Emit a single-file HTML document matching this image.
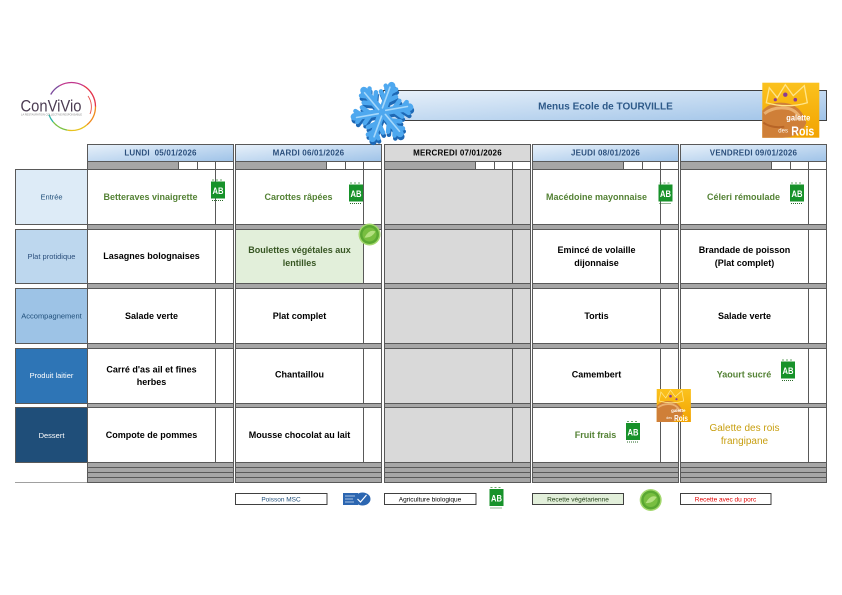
<!DOCTYPE html>
<html><head><meta charset="utf-8"><style>
html,body{margin:0;padding:0;background:#fff;}
svg{display:block;}
text{font-family:"Liberation Sans",Arial,sans-serif;}
.c{font-size:9px;font-weight:bold;text-anchor:middle;fill:#000;}
.g{fill:#548235;}
.v{fill:#375623;}
.lab{font-size:7.5px;text-anchor:middle;}
.hd{font-size:8px;font-weight:bold;text-anchor:middle;fill:#2b4f7c;letter-spacing:0.2px;}
.lg{font-size:6.5px;text-anchor:middle;}
</style></head><body>
<svg width="842" height="595" viewBox="0 0 842 595" xmlns="http://www.w3.org/2000/svg">
<defs>
<linearGradient id="hb" x1="0" y1="0" x2="1" y2="1"><stop offset="0" stop-color="#e8f1fa"/><stop offset="1" stop-color="#9fc3e8"/></linearGradient>
<linearGradient id="gal" x1="0" y1="0" x2="0" y2="1"><stop offset="0" stop-color="#fbc21e"/><stop offset="1" stop-color="#f2a300"/></linearGradient>
<g id="arm" fill="none" stroke-linecap="round" stroke-linejoin="round"><path d="M0 0V-28" stroke-width="7.5"/><path d="M0 -11L8 -19M0 -11L-8 -19M0 -20L5.5 -26M0 -20L-5.5 -26" stroke-width="4.5"/></g>
<g id="hl" fill="none" stroke-linecap="round"><path d="M-1 -4V-26" stroke-width="1.6"/></g>
</defs>

<!-- Convivio logo -->
<g fill="none" stroke-width="1.3">
<path d="M50.7 94.5 A24 24 0 0 1 59.5 85.7" stroke="#7b4a9c"/>
<path d="M59.5 85.7 A24 24 0 0 1 83.5 85.7" stroke="#c0358c"/>
<path d="M83.5 85.7 A24 24 0 0 1 95.5 106.5" stroke="#e4334b"/>
<path d="M95.5 106.5 A24 24 0 0 1 86.9 124.9" stroke="#f08a1d"/>
<path d="M86.9 124.9 A24 24 0 0 1 67.3 130.1" stroke="#e8c21d"/>
<path d="M67.3 130.1 A24 24 0 0 1 53.1 121.9" stroke="#7cc243"/>
<path d="M53.1 121.9 A24 24 0 0 1 48.9 114.7" stroke="#2bb3a6"/>
<path d="M88 96 A19 19 0 0 1 90 114" stroke="#e6504a" stroke-width="0.9"/>
</g>
<text x="20.5" y="111.5" font-size="17" fill="#4b3c52" textLength="61" lengthAdjust="spacingAndGlyphs">ConViVio</text>
<text x="21" y="115.6" font-size="2.6" fill="#888" textLength="61" lengthAdjust="spacingAndGlyphs">LA RESTAURATION COLLECTIVE RESPONSABLE</text>

<!-- Title bar -->
<rect x="383.5" y="90.5" width="443" height="30" fill="url(#hb)" stroke="#404040"/>
<text x="605.5" y="109.5" font-size="10" font-weight="bold" fill="#2e5a89" text-anchor="middle">Menus Ecole de TOURVILLE</text>

<!-- Galette big -->
<g transform="translate(762.3,82.7)">
<rect width="57" height="55" fill="url(#gal)"/>
<path d="M0 28 Q10 17 27 21 Q40 25 44 40 Q38 55 20 55 L0 55 Z" fill="#cf7f38"/>
<path d="M2 31 Q12 23 27 26 Q36 29 39 38" fill="none" stroke="#eab070" stroke-width="3"/>
<path d="M1 40 Q10 46 22 44" fill="none" stroke="#b76426" stroke-width="2"/>
<path d="M4 20 L7 5 L15 15 L23 2 L31 13 L42 3 L45 20 Q25 26 4 20Z" fill="none" stroke="#ffe58a" stroke-width="1.3"/>
<circle cx="23" cy="12" r="2.2" fill="#8a3c96"/><circle cx="33" cy="17" r="1.8" fill="#8a3c96"/><circle cx="13" cy="17" r="1.6" fill="#8a3c96"/>
<text x="24" y="38" font-size="8" font-weight="bold" fill="#fff" textLength="24" lengthAdjust="spacingAndGlyphs">galette</text>
<text x="16" y="50" font-size="6" fill="#fff">des</text>
<text x="29" y="53" font-size="13" font-weight="bold" fill="#fff" textLength="23" lengthAdjust="spacingAndGlyphs">Rois</text>
</g>

<!-- Label column -->
<rect x="15.5" y="169.5" width="72" height="55" fill="#ddebf7" stroke="#595959"/>
<rect x="15.5" y="229.5" width="72" height="54" fill="#bdd7ee" stroke="#595959"/>
<rect x="15.5" y="288.5" width="72" height="55" fill="#9dc3e6" stroke="#595959"/>
<rect x="15.5" y="348.5" width="72" height="55" fill="#2e75b6" stroke="#595959"/>
<rect x="15.5" y="407.5" width="72" height="55" fill="#1f4e79" stroke="#595959"/>
<line x1="15" y1="482.5" x2="87.5" y2="482.5" stroke="#a0a0a0"/>
<text class="lab" x="51.5" y="199.3" fill="#1f4e79">Entrée</text>
<text class="lab" x="51.5" y="259" fill="#2b4f7c">Plat protidique</text>
<text class="lab" x="51.5" y="318.5" fill="#1f4e79">Accompagnement</text>
<text class="lab" x="51.5" y="378" fill="#fff">Produit laitier</text>
<text class="lab" x="51.5" y="437.8" fill="#fff">Dessert</text>

<!-- LUNDI -->
<g transform="translate(87.5,0)">
<rect x="0" y="144.5" width="146" height="17" fill="url(#hb)" stroke="#595959"/>
<text class="hd" x="73" y="155.6">LUNDI&#160; 05/01/2026</text>
<rect x="0" y="161.5" width="91" height="8" fill="#a6a6a6" stroke="#595959"/>
<rect x="91" y="161.5" width="55" height="8" fill="#fff" stroke="#595959"/>
<path d="M110 161.5V169.5M128 161.5V169.5" stroke="#595959"/>
<rect x="0" y="169.5" width="146" height="313" fill="#a6a6a6" stroke="#595959"/>
<rect x="0" y="169.5" width="146" height="55" fill="#fff" stroke="#595959"/>
<rect x="0" y="229.5" width="146" height="54" fill="#fff" stroke="#595959"/>
<rect x="0" y="288.5" width="146" height="55" fill="#fff" stroke="#595959"/>
<rect x="0" y="348.5" width="146" height="55" fill="#fff" stroke="#595959"/>
<rect x="0" y="407.5" width="146" height="55" fill="#fff" stroke="#595959"/>
<path d="M128 169.5V224.5M128 229.5V283.5M128 288.5V343.5M128 348.5V403.5M128 407.5V462.5M0 467.5H146M0 472.5H146M0 477.5H146" stroke="#595959"/>
<text class="c g" x="63" y="200">Betteraves vinaigrette</text>
<text class="c" x="64" y="259.2">Lasagnes bolognaises</text>
<text class="c" x="64" y="319">Salade verte</text>
<text class="c" x="64" y="372.5">Carré d'as ail et fines</text>
<text class="c" x="64" y="385">herbes</text>
<text class="c" x="64" y="438.2">Compote de pommes</text>
</g>

<!-- MARDI -->
<g transform="translate(235.5,0)">
<rect x="0" y="144.5" width="146" height="17" fill="url(#hb)" stroke="#595959"/>
<text class="hd" x="73" y="155.6">MARDI 06/01/2026</text>
<rect x="0" y="161.5" width="91" height="8" fill="#a6a6a6" stroke="#595959"/>
<rect x="91" y="161.5" width="55" height="8" fill="#fff" stroke="#595959"/>
<path d="M110 161.5V169.5M128 161.5V169.5" stroke="#595959"/>
<rect x="0" y="169.5" width="146" height="313" fill="#a6a6a6" stroke="#595959"/>
<rect x="0" y="169.5" width="146" height="55" fill="#fff" stroke="#595959"/>
<rect x="0" y="229.5" width="146" height="54" fill="#fff" stroke="#595959"/>
<rect x="0" y="229.5" width="128" height="54" fill="#e2efda" stroke="#595959"/>
<rect x="0" y="288.5" width="146" height="55" fill="#fff" stroke="#595959"/>
<rect x="0" y="348.5" width="146" height="55" fill="#fff" stroke="#595959"/>
<rect x="0" y="407.5" width="146" height="55" fill="#fff" stroke="#595959"/>
<path d="M128 169.5V224.5M128 229.5V283.5M128 288.5V343.5M128 348.5V403.5M128 407.5V462.5M0 467.5H146M0 472.5H146M0 477.5H146" stroke="#595959"/>
<text class="c g" x="63" y="200">Carottes râpées</text>
<text class="c v" x="64" y="253.2">Boulettes végétales aux</text>
<text class="c v" x="64" y="266">lentilles</text>
<text class="c" x="64" y="319">Plat complet</text>
<text class="c" x="64" y="377.7">Chantaillou</text>
<text class="c" x="64" y="438">Mousse chocolat au lait</text>
</g>

<!-- MERCREDI -->
<g transform="translate(384.5,0)">
<rect x="0" y="144.5" width="146" height="17" fill="#d9d9d9" stroke="#595959"/>
<text class="hd" x="73" y="155.6" style="fill:#000">MERCREDI 07/01/2026</text>
<rect x="0" y="161.5" width="91" height="8" fill="#a6a6a6" stroke="#595959"/>
<rect x="91" y="161.5" width="55" height="8" fill="#fff" stroke="#595959"/>
<path d="M110 161.5V169.5M128 161.5V169.5" stroke="#595959"/>
<rect x="0" y="169.5" width="146" height="313" fill="#a6a6a6" stroke="#595959"/>
<rect x="0" y="169.5" width="146" height="55" fill="#d9d9d9" stroke="#595959"/>
<rect x="0" y="229.5" width="146" height="54" fill="#d9d9d9" stroke="#595959"/>
<rect x="0" y="288.5" width="146" height="55" fill="#d9d9d9" stroke="#595959"/>
<rect x="0" y="348.5" width="146" height="55" fill="#d9d9d9" stroke="#595959"/>
<rect x="0" y="407.5" width="146" height="55" fill="#d9d9d9" stroke="#595959"/>
<path d="M128 169.5V224.5M128 229.5V283.5M128 288.5V343.5M128 348.5V403.5M128 407.5V462.5M0 467.5H146M0 472.5H146M0 477.5H146" stroke="#595959"/>
</g>

<!-- JEUDI -->
<g transform="translate(532.5,0)">
<rect x="0" y="144.5" width="146" height="17" fill="url(#hb)" stroke="#595959"/>
<text class="hd" x="73" y="155.6">JEUDI 08/01/2026</text>
<rect x="0" y="161.5" width="91" height="8" fill="#a6a6a6" stroke="#595959"/>
<rect x="91" y="161.5" width="55" height="8" fill="#fff" stroke="#595959"/>
<path d="M110 161.5V169.5M128 161.5V169.5" stroke="#595959"/>
<rect x="0" y="169.5" width="146" height="313" fill="#a6a6a6" stroke="#595959"/>
<rect x="0" y="169.5" width="146" height="55" fill="#fff" stroke="#595959"/>
<rect x="0" y="229.5" width="146" height="54" fill="#fff" stroke="#595959"/>
<rect x="0" y="288.5" width="146" height="55" fill="#fff" stroke="#595959"/>
<rect x="0" y="348.5" width="146" height="55" fill="#fff" stroke="#595959"/>
<rect x="0" y="407.5" width="146" height="55" fill="#fff" stroke="#595959"/>
<path d="M128 169.5V224.5M128 229.5V283.5M128 288.5V343.5M128 348.5V403.5M128 407.5V462.5M0 467.5H146M0 472.5H146M0 477.5H146" stroke="#595959"/>
<text class="c g" x="64" y="200">Macédoine mayonnaise</text>
<text class="c" x="64" y="253.2">Emincé de volaille</text>
<text class="c" x="64" y="266">dijonnaise</text>
<text class="c" x="64" y="319">Tortis</text>
<text class="c" x="64" y="377.7">Camembert</text>
<text class="c g" x="63" y="438">Fruit frais</text>
</g>

<!-- VENDREDI -->
<g transform="translate(680.5,0)">
<rect x="0" y="144.5" width="146" height="17" fill="url(#hb)" stroke="#595959"/>
<text class="hd" x="73" y="155.6">VENDREDI 09/01/2026</text>
<rect x="0" y="161.5" width="91" height="8" fill="#a6a6a6" stroke="#595959"/>
<rect x="91" y="161.5" width="55" height="8" fill="#fff" stroke="#595959"/>
<path d="M110 161.5V169.5M128 161.5V169.5" stroke="#595959"/>
<rect x="0" y="169.5" width="146" height="313" fill="#a6a6a6" stroke="#595959"/>
<rect x="0" y="169.5" width="146" height="55" fill="#fff" stroke="#595959"/>
<rect x="0" y="229.5" width="146" height="54" fill="#fff" stroke="#595959"/>
<rect x="0" y="288.5" width="146" height="55" fill="#fff" stroke="#595959"/>
<rect x="0" y="348.5" width="146" height="55" fill="#fff" stroke="#595959"/>
<rect x="0" y="407.5" width="146" height="55" fill="#fff" stroke="#595959"/>
<path d="M128 169.5V224.5M128 229.5V283.5M128 288.5V343.5M128 348.5V403.5M128 407.5V462.5M0 467.5H146M0 472.5H146M0 477.5H146" stroke="#595959"/>
<text class="c g" x="63" y="200">Céleri rémoulade</text>
<text class="c" x="64" y="253.2">Brandade de poisson</text>
<text class="c" x="64" y="266">(Plat complet)</text>
<text class="c" x="64" y="319">Salade verte</text>
<text class="c g" x="63.5" y="377.7">Yaourt sucré</text>
<text x="64" y="431" font-size="10" fill="#c89f10" text-anchor="middle">Galette des rois</text>
<text x="64" y="444" font-size="10" fill="#c89f10" text-anchor="middle">frangipane</text>
</g>

<!-- AB logos -->
<g transform="translate(211,179.5)"><path d="M1 0.5h2M5 0.5h2M9 0.5h2" stroke="#3a8a3a" stroke-width="0.8"/><rect x="0" y="2" width="14" height="17" fill="#17922a"/><text x="7" y="14.5" font-size="9.5" font-weight="bold" fill="#fff" text-anchor="middle" textLength="11" lengthAdjust="spacingAndGlyphs">AB</text><path d="M1 21h12" stroke="#2a6a2a" stroke-width="1" stroke-dasharray="1 1"/></g>
<g transform="translate(349,182.5)"><path d="M1 0.5h2M5 0.5h2M9 0.5h2" stroke="#3a8a3a" stroke-width="0.8"/><rect x="0" y="2" width="14" height="17" fill="#17922a"/><text x="7" y="14.5" font-size="9.5" font-weight="bold" fill="#fff" text-anchor="middle" textLength="11" lengthAdjust="spacingAndGlyphs">AB</text><path d="M1 21h12" stroke="#2a6a2a" stroke-width="1" stroke-dasharray="1 1"/></g>
<g transform="translate(658.5,182.5)"><path d="M1 0.5h2M5 0.5h2M9 0.5h2" stroke="#3a8a3a" stroke-width="0.8"/><rect x="0" y="2" width="14" height="17" fill="#17922a"/><text x="7" y="14.5" font-size="9.5" font-weight="bold" fill="#fff" text-anchor="middle" textLength="11" lengthAdjust="spacingAndGlyphs">AB</text><path d="M1 21h12" stroke="#2a6a2a" stroke-width="1" stroke-dasharray="1 1"/></g>
<g transform="translate(790,182.5)"><path d="M1 0.5h2M5 0.5h2M9 0.5h2" stroke="#3a8a3a" stroke-width="0.8"/><rect x="0" y="2" width="14" height="17" fill="#17922a"/><text x="7" y="14.5" font-size="9.5" font-weight="bold" fill="#fff" text-anchor="middle" textLength="11" lengthAdjust="spacingAndGlyphs">AB</text><path d="M1 21h12" stroke="#2a6a2a" stroke-width="1" stroke-dasharray="1 1"/></g>
<g transform="translate(781,359.5)"><path d="M1 0.5h2M5 0.5h2M9 0.5h2" stroke="#3a8a3a" stroke-width="0.8"/><rect x="0" y="2" width="14" height="17" fill="#17922a"/><text x="7" y="14.5" font-size="9.5" font-weight="bold" fill="#fff" text-anchor="middle" textLength="11" lengthAdjust="spacingAndGlyphs">AB</text><path d="M1 21h12" stroke="#2a6a2a" stroke-width="1" stroke-dasharray="1 1"/></g>
<g transform="translate(626,421)"><path d="M1 0.5h2M5 0.5h2M9 0.5h2" stroke="#3a8a3a" stroke-width="0.8"/><rect x="0" y="2" width="14" height="17" fill="#17922a"/><text x="7" y="14.5" font-size="9.5" font-weight="bold" fill="#fff" text-anchor="middle" textLength="11" lengthAdjust="spacingAndGlyphs">AB</text><path d="M1 21h12" stroke="#2a6a2a" stroke-width="1" stroke-dasharray="1 1"/></g>
<g transform="translate(489.5,487)"><path d="M1 0.5h2M5 0.5h2M9 0.5h2" stroke="#3a8a3a" stroke-width="0.8"/><rect x="0" y="2" width="14" height="17" fill="#17922a"/><text x="7" y="14.5" font-size="9.5" font-weight="bold" fill="#fff" text-anchor="middle" textLength="11" lengthAdjust="spacingAndGlyphs">AB</text><path d="M1 21h12" stroke="#2a6a2a" stroke-width="1" stroke-dasharray="1 1"/></g>

<!-- Veg icon on MARDI -->
<g transform="translate(369.5,234.5)">
<circle r="11" fill="#a4d86e"/><circle r="9.5" fill="#5aa832"/><circle r="7" fill="#78be40"/>
<path d="M-5 3 Q0 -6 6 -3 Q2 4 -5 3Z" fill="#b4e080"/>
</g>

<!-- Small galette -->
<g transform="translate(656.7,389) scale(0.6)">
<rect width="57" height="55" fill="url(#gal)"/>
<path d="M0 28 Q10 17 27 21 Q40 25 44 40 Q38 55 20 55 L0 55 Z" fill="#cf7f38"/>
<path d="M2 31 Q12 23 27 26 Q36 29 39 38" fill="none" stroke="#eab070" stroke-width="3"/>
<path d="M4 20 L7 5 L15 15 L23 2 L31 13 L42 3 L45 20 Q25 26 4 20Z" fill="none" stroke="#ffe58a" stroke-width="1.3"/>
<circle cx="23" cy="12" r="2.2" fill="#8a3c96"/><circle cx="33" cy="17" r="1.8" fill="#8a3c96"/>
<text x="24" y="38" font-size="8" font-weight="bold" fill="#fff" textLength="24" lengthAdjust="spacingAndGlyphs">galette</text>
<text x="16" y="50" font-size="6" fill="#fff">des</text>
<text x="29" y="53" font-size="13" font-weight="bold" fill="#fff" textLength="23" lengthAdjust="spacingAndGlyphs">Rois</text>
</g>

<!-- Snowflake -->
<g transform="translate(382,112) rotate(20)">
<g transform="translate(1.8,2.6)" stroke="#1d68b5">
<use href="#arm"/><use href="#arm" transform="rotate(60)"/><use href="#arm" transform="rotate(120)"/><use href="#arm" transform="rotate(180)"/><use href="#arm" transform="rotate(240)"/><use href="#arm" transform="rotate(300)"/>
<circle r="7" fill="#1d68b5" stroke="none"/>
</g>
<g stroke="#4ea8ef">
<use href="#arm"/><use href="#arm" transform="rotate(60)"/><use href="#arm" transform="rotate(120)"/><use href="#arm" transform="rotate(180)"/><use href="#arm" transform="rotate(240)"/><use href="#arm" transform="rotate(300)"/>
<circle r="7" fill="#4ea8ef" stroke="none"/>
</g>
<g stroke="#a6d8fb">
<use href="#hl"/><use href="#hl" transform="rotate(60)"/><use href="#hl" transform="rotate(120)"/><use href="#hl" transform="rotate(180)"/><use href="#hl" transform="rotate(240)"/><use href="#hl" transform="rotate(300)"/>
</g>
</g>

<!-- Legend -->
<rect x="235.5" y="493.5" width="91.5" height="11" fill="#fff" stroke="#404040"/>
<text class="lg" x="281" y="501.6" fill="#1f4e79">Poisson MSC</text>
<rect x="343" y="493" width="15" height="12" fill="#2c66b1"/>
<ellipse cx="362.5" cy="499" rx="8" ry="6.5" fill="#2c66b1"/>
<path d="M345 496h10M345 499h8M345 502h9" stroke="#cfe0f5" stroke-width="0.7"/>
<path d="M357.5 499 l3 3 l6 -7" stroke="#fff" stroke-width="1.2" fill="none"/>
<rect x="384.5" y="493.5" width="91.5" height="11" fill="#fff" stroke="#404040"/>
<text class="lg" x="430" y="501.6" fill="#000">Agriculture biologique</text>
<rect x="532.5" y="493.5" width="91" height="11" fill="#e2efda" stroke="#404040"/>
<text class="lg" x="578" y="501.6" fill="#1e3d12">Recette végétarienne</text>
<g transform="translate(650.7,500)">
<circle r="11" fill="#a4d86e"/><circle r="9.5" fill="#5aa832"/><circle r="7" fill="#78be40"/>
<path d="M-5 3 Q0 -6 6 -3 Q2 4 -5 3Z" fill="#b4e080"/>
</g>
<rect x="680.5" y="493.5" width="90.5" height="11" fill="#fff" stroke="#404040"/>
<text class="lg" x="725.5" y="501.6" fill="#e00000">Recette avec du porc</text>
</svg>
</body></html>
